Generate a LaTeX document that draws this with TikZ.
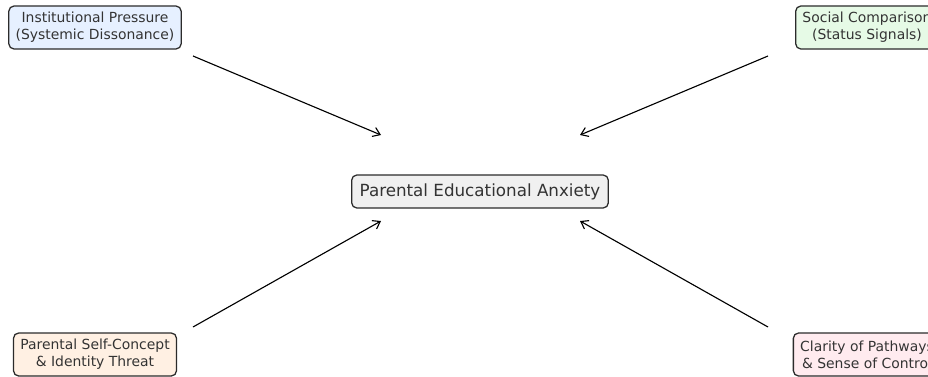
\documentclass[tikz,border=0pt]{standalone}
\usepackage{fontspec}
\setmainfont{DejaVu Sans}
\usetikzlibrary{positioning,arrows.meta}
\definecolor{edgegray}{HTML}{2B2B2B}
\definecolor{txtgray}{HTML}{333333}
\definecolor{instblue}{HTML}{E6F0FF}
\definecolor{socgreen}{HTML}{E6FAE6}
\definecolor{selforange}{HTML}{FFF0E3}
\definecolor{clarpink}{HTML}{FFEBEF}
\definecolor{centgray}{HTML}{F0F0F0}

\begin{document}
\begin{tikzpicture}[x=0.025cm, y=-0.025cm,
    factor/.style={draw=edgegray, line width=0.9pt, rounded corners=0.13cm, text=txtgray,
        align=center, inner xsep=0.17cm, minimum height=1.075cm,
        font=\fontsize{9.9}{12}\selectfont},
    core/.style={draw=edgegray, line width=0.9pt, rounded corners=0.13cm, fill=centgray,
        text=txtgray, inner xsep=0.2cm, minimum height=0.825cm,
        font=\fontsize{11.9}{14}\selectfont},
    link/.style={-{Straight Barb[length=1.7mm,width=2.4mm]}, line width=0.8pt, black}]
\useasboundingbox (0,0) rectangle (928,376);
\clip (0,0) rectangle (928,376);

% Central node
\node[core] (anxiety) at (480,191.5) {Parental Educational Anxiety};

% Four influencing factors
\node[factor, fill=instblue] (inst) at (95,27.5) {Institutional Pressure\\(Systemic Dissonance)};
\node[factor, fill=socgreen] (social) at (867,27.5) {Social Comparison\\(Status Signals)};
\node[factor, fill=selforange] (self) at (95,354.5) {Parental Self-Concept\\\& Identity Threat};
\node[factor, fill=clarpink] (clarity) at (867,354.5) {Clarity of Pathways\\\& Sense of Control};

% Arrow end points
\foreach \name/\x/\y in {instS/193/56, instE/381/135, socialS/768/56, socialE/580/135,
    selfS/193/327, selfE/381/221, clarityS/768/327, clarityE/580/221} {
    \coordinate (\name) at (\x,\y);
}

% Arrows towards the centre
\foreach \src in {inst, social, self, clarity} {
    \draw[link] (\src S) -- (\src E);
}

\end{tikzpicture}
\end{document}
